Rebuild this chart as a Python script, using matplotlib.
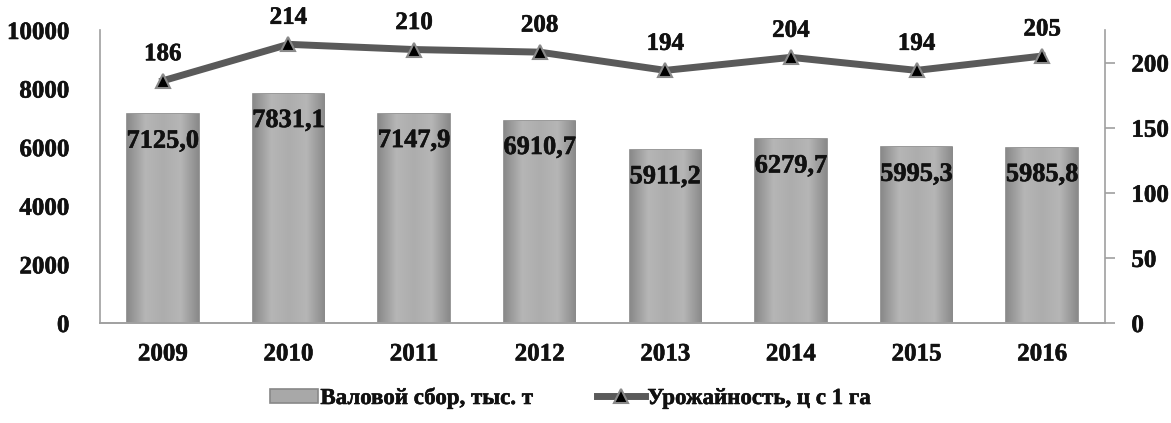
import numpy as np
import matplotlib
matplotlib.use("Agg")
import matplotlib.pyplot as plt
import matplotlib.patheffects as pe
from matplotlib.colors import LinearSegmentedColormap

years = ["2009", "2010", "2011", "2012", "2013", "2014", "2015", "2016"]
gross = [7125.0, 7831.1, 7147.9, 6910.7, 5911.2, 6279.7, 5995.3, 5985.8]
yieldv = [186, 214, 210, 208, 194, 204, 194, 205]
gross_labels = ["7125,0", "7831,1", "7147,9", "6910,7", "5911,2", "6279,7", "5995,3", "5985,8"]
bar_name = "Валовой сбор, тыс. т"
line_name = "Урожайность, ц с 1 га"

plt.rcParams['font.family'] = ['Liberation Serif', 'DejaVu Serif']
plt.rcParams['font.weight'] = 'bold'
TXT = '#111111'
heavy = [pe.withStroke(linewidth=0.4, foreground=TXT)]

W, H = 1171, 423
fig = plt.figure(figsize=(W / 100, H / 100), dpi=100)
ax = fig.add_axes([100 / W, 1 - 323 / H, (1105 - 100) / W, (323 - 30) / H])
ax2 = ax.twinx()

x = np.arange(len(years))
bars = ax.bar(x, gross, width=0.57, color='#a8a8a8', edgecolor='#888888',
              linewidth=1.2, label=bar_name, zorder=2)

# horizontal gradient inside bars (darker edges, lighter centre)
cmap = LinearSegmentedColormap.from_list('g', ['#8a8a8a', '#b6b6b6', '#adadad', '#b6b6b6', '#8a8a8a'])
grad = np.linspace(0, 1, 64).reshape(1, -1)
for b in bars:
    bx, by = b.get_x(), b.get_y()
    bw, bh = b.get_width(), b.get_height()
    im = ax.imshow(grad, extent=[bx, bx + bw, by, by + bh], aspect='auto',
                   cmap=cmap, zorder=2.1, interpolation='bicubic')
    im.set_clip_path(b)

for xi, v, lab in zip(x, gross, gross_labels):
    ax.annotate(lab, (xi, v), xytext=(0, -27), textcoords='offset pixels',
                ha='center', va='center', fontsize=19, fontweight='bold',
                color=TXT, zorder=5, path_effects=heavy)

ln, = ax2.plot(x, yieldv, color='#5a5a5a', linewidth=5, marker='^',
               markersize=10, markerfacecolor='black', markeredgecolor='#8a8a8a',
               markeredgewidth=1.5, label=line_name, zorder=4)
for xi, v in zip(x, yieldv):
    ax2.annotate(str(v), (xi, v), xytext=(0, 27), textcoords='offset pixels',
                 ha='center', va='center', fontsize=18, fontweight='bold',
                 color=TXT, annotation_clip=False, path_effects=heavy)

ax.set_xlim(-0.5, len(years) - 0.5)
ax.set_ylim(0, 10000)
ax.set_yticks(np.arange(0, 10001, 2000))
ax2.set_ylim(0, 225)
ax2.set_yticks(np.arange(0, 201, 50))
ax.set_xticks(x)
ax.set_xticklabels(years)

for a in (ax, ax2):
    for s in a.spines.values():
        s.set_color('#a0a0a0')
        s.set_linewidth(1.2)
    a.spines['top'].set_visible(False)
ax2.spines['left'].set_visible(False)
ax.spines['right'].set_visible(False)

ax.tick_params(axis='y', length=0, pad=22, labelsize=18, labelcolor=TXT)
ax.tick_params(axis='x', length=0, pad=14, labelsize=18, labelcolor=TXT)
ax2.tick_params(axis='y', length=7, width=1.2, color='#a0a0a0', pad=12,
                labelsize=18, labelcolor=TXT)
for t in ax.get_yticklabels() + ax.get_xticklabels() + ax2.get_yticklabels():
    t.set_fontweight('bold')
    t.set_path_effects(heavy)

leg = fig.legend([bars, ln], [bar_name, line_name], loc='center',
                 bbox_to_anchor=(570 / W, 1 - 398 / H), ncol=2, frameon=False,
                 prop={'family': 'Liberation Serif', 'weight': 'bold', 'size': 16.5},
                 handlelength=2.1, handletextpad=0.1, columnspacing=2.8,
                 handleheight=0.55)
for t in leg.get_texts():
    t.set_color(TXT)
    t.set_path_effects(heavy)

fig.savefig('out.png', dpi=100)
